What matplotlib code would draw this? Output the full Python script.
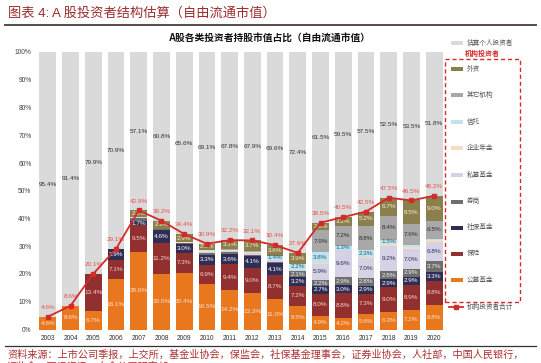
import numpy as np
import matplotlib
matplotlib.use("Agg")
import matplotlib.pyplot as plt
from matplotlib.patches import Rectangle
from matplotlib.lines import Line2D

plt.rcParams['font.family'] = ['Liberation Sans', 'Noto Sans CJK SC']

years = [str(y) for y in range(2003, 2021)]

# stacked institutional series, bottom to top (% of free float market cap)
gongmu   = [4.6, 8.6, 6.7, 18.1, 28.0, 20.0, 20.4, 16.5, 14.2, 13.3, 11.0, 8.5, 4.9, 4.2, 5.6, 6.3, 7.2, 8.8]
baoxian  = [0, 0, 13.4, 7.1, 9.5, 11.2, 7.3, 6.9, 9.4, 9.0, 8.7, 7.2, 8.0, 8.8, 7.3, 9.0, 8.9, 8.8]
shebao   = [0, 0, 0, 3.9, 1.7, 4.6, 3.0, 3.3, 3.6, 4.1, 4.1, 3.2, 2.7, 3.0, 2.9, 2.9, 2.9, 3.3]
quanshang= [0, 0, 0, 0, 0.9, 0.3, 0.4, 0.8, 0.6, 0.6, 0.6, 2.1, 2.2, 2.9, 2.8, 2.8, 2.9, 3.7]
simu     = [0, 0, 0, 0, 0.3, 0, 0.2, 0.4, 0.4, 0.5, 0.5, 0.3, 5.9, 9.6, 7.0, 9.2, 7.0, 6.8]
nianjin  = [0, 0, 0, 0, 0, 0.2, 0.2, 0.3, 0.3, 0.3, 0.3, 0.2, 0.3, 0.3, 0.6, 0.7, 0.7, 0.7]
xintuo   = [0, 0, 0, 0, 0, 0, 0, 0.3, 0.3, 0.3, 1.4, 2.2, 3.8, 1.3, 2.3, 1.5, 0.8, 0.6]
qita     = [0, 0, 0, 0, 0.3, 0, 0, 0.3, 0.3, 0.3, 0, 0, 7.9, 7.2, 8.8, 8.4, 7.6, 6.5]
waizi    = [0, 0, 0, 0, 2.2, 2.9, 2.9, 2.1, 3.1, 3.7, 3.8, 3.9, 2.8, 3.2, 5.2, 6.7, 8.5, 9.0]

total = [4.6, 8.6, 20.1, 29.1, 42.9, 39.2, 34.4, 30.9, 32.2, 32.1, 30.4, 27.6, 38.5, 40.5, 42.5, 47.5, 46.5, 48.2]
geren = [95.4, 91.4, 79.9, 70.9, 57.1, 60.8, 65.6, 69.1, 67.8, 67.9, 69.6, 72.4, 61.5, 59.5, 57.5, 52.5, 53.5, 51.8]

names = ['公募基金', '保险', '社保基金', '券商', '私募基金', '企业年金', '信托', '其它机构', '外资']
series = [gongmu, baoxian, shebao, quanshang, simu, nianjin, xintuo, qita, waizi]
colors = ['#E8771E', '#923030', '#2E2D55', '#6E6E6E', '#D6D2E6', '#F4DEC0', '#C0E3F0', '#A8A8A8', '#8C7F4E']
tcolors = ['#FCE3D2', '#F6D2D2', '#FFFFFF', '#F0F0F0', '#2E2D55', '#555555', '#1F6070', '#303030', '#F5F0C8']
c_geren = '#DADADA'
c_line = '#D42A2A'

W, H = 541, 363
fig = plt.figure(figsize=(W / 100, H / 100), dpi=100)

def fx(px):
    return px / W

def fy(py):
    return 1 - py / H

ax = fig.add_axes([fx(37), fy(329.5), fx(445) - fx(37), fy(52) - fy(329.5)])
x = np.arange(len(years))
bw = 0.74

bottom = np.zeros(len(years))
for vals, c, tc in zip(series, colors, tcolors):
    vals = np.array(vals, dtype=float)
    ax.bar(x, vals, bw, bottom=bottom, color=c, linewidth=0)
    for i, v in enumerate(vals):
        if v >= 1.3:
            ax.text(x[i], bottom[i] + v / 2, f'{v:.1f}%', ha='center', va='center',
                    fontsize=4.6, color=tc)
    bottom += vals

ax.bar(x, geren, bw, bottom=bottom, color=c_geren, linewidth=0)
for i, v in enumerate(geren):
    ax.text(x[i], bottom[i] + v / 2, f'{v:.1f}%', ha='center', va='center',
            fontsize=4.6, color='#333333')

ax.plot(x, total, color=c_line, lw=1.3, marker='s', markersize=2.8, zorder=5)
for i, v in enumerate(total):
    ax.text(x[i], v + 3.3, f'{v:.1f}%', ha='center', va='center', fontsize=4.6, color='#E8504A')

ax.set_xlim(-0.48, 17.48)
ax.set_ylim(0, 100)
ax.set_yticks(np.arange(0, 101, 10))
ax.set_yticklabels([f'{t}%' for t in range(0, 101, 10)], fontsize=4.8, color='#404040')
ax.set_xticks(x)
ax.set_xticklabels(years, fontsize=4.8, color='#303030')
ax.tick_params(length=0, pad=4)
for s in ax.spines.values():
    s.set_visible(False)

# header and title
fig.text(fx(8), fy(13), '图表 4: A 股投资者结构估算（自由流通市值）', fontsize=9.5,
         color='#9B2C2C', ha='left', va='center')
fig.add_artist(Line2D([fx(5), fx(536)], [fy(25), fy(25)], color='#5A4A48', lw=1.4))
fig.text(fx(270), fy(38), 'A股各类投资者持股市值占比（自由流通市值）', fontsize=7,
         fontweight='bold', ha='center', va='center', color='#111111')

# legend
def patch(py, c):
    fig.add_artist(Rectangle((fx(451), fy(py + 2)), fx(463) - fx(451), fy(py - 2) - fy(py + 2),
                             color=c, lw=0))

def label(py, s, c='#555555', **kw):
    fig.text(fx(467), fy(py), s, fontsize=4.8, color=c, ha='left', va='center', **kw)

patch(43, c_geren)
label(43, '估算个人投资者')
fig.text(fx(482), fy(54), '机构投资者', fontsize=5, color='#D42A2A', ha='center',
         va='center', fontweight='bold')
fig.add_artist(Rectangle((fx(445), fy(302)), fx(520) - fx(445), fy(59) - fy(302),
                         fill=False, edgecolor='#D42A2A', lw=1, ls=(0, (3, 2))))
leg_y = [280, 254, 228, 202, 175, 148, 122, 95, 69]
for py, n, c in zip(leg_y, names, colors):
    patch(py, c)
    label(py, n)
fig.add_artist(Line2D([fx(449), fx(456), fx(463)], [fy(307)] * 3, color=c_line, lw=1.3,
                      marker='s', markersize=2.8, markevery=[1]))
label(307, '机构投资者合计')

# source
fig.add_artist(Line2D([fx(5), fx(536)], [fy(346), fy(346)], color='#333333', lw=0.9))
fig.text(fx(7), fy(355), '资料来源：上市公司季报，上交所，基金业协会，保监会，社保基金理事会，证券业协会，人社部，中国人民银行，',
         fontsize=7.3, color='#B03030', ha='left', va='center')
fig.text(fx(7), fy(367), '证监会，万得资讯，中金公司研究部', fontsize=7.3, color='#B03030',
         ha='left', va='center')

fig.savefig('out.png', dpi=100)
